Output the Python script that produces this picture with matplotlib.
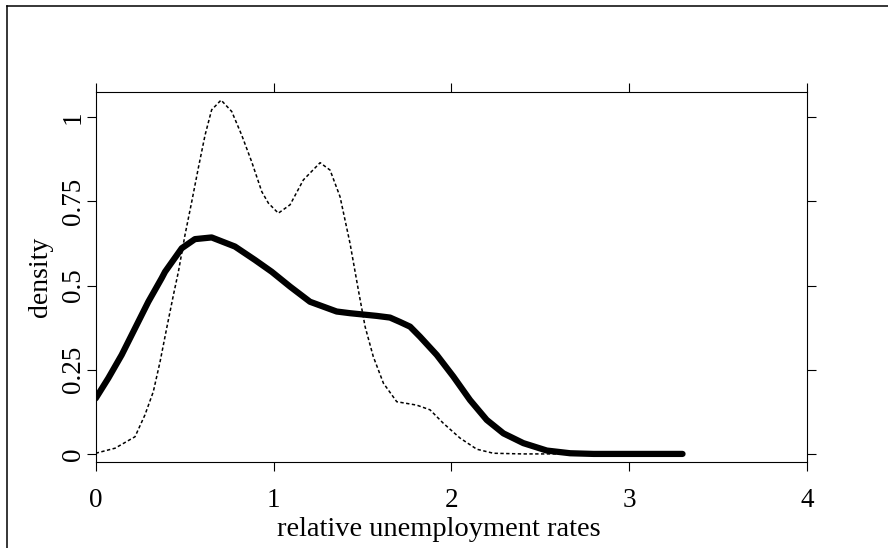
import matplotlib
matplotlib.use("Agg")
import matplotlib.pyplot as plt
from matplotlib.lines import Line2D

plt.rcParams['font.family'] = ['Liberation Serif', 'DejaVu Serif']

# thick curve
solid_x = [0.0, 0.071, 0.146, 0.221, 0.296, 0.371, 0.39, 0.484, 0.558, 0.652,
           0.783, 0.896, 0.99, 1.093, 1.205, 1.355, 1.43, 1.505, 1.58, 1.655,
           1.711, 1.768, 1.824, 1.918, 2.011, 2.105, 2.199, 2.293, 2.405, 2.537,
           2.668, 2.8, 3.0, 3.3]
solid_y = [0.165, 0.225, 0.294, 0.373, 0.452, 0.522, 0.541, 0.611, 0.638, 0.643,
           0.616, 0.576, 0.541, 0.497, 0.452, 0.423, 0.418, 0.414, 0.41, 0.405,
           0.392, 0.378, 0.348, 0.294, 0.23, 0.16, 0.101, 0.061, 0.032, 0.01,
           0.002, 0.0, 0.0, 0.0]

# dotted curve
dot_x = [0.0, 0.109, 0.221, 0.277, 0.324, 0.362, 0.399, 0.437, 0.465, 0.502,
         0.54, 0.577, 0.615, 0.652, 0.705, 0.765, 0.821, 0.877, 0.934, 0.971,
         1.027, 1.093, 1.168, 1.262, 1.318, 1.374, 1.43, 1.477, 1.515, 1.561,
         1.618, 1.693, 1.805, 1.88, 1.955, 2.049, 2.143, 2.236, 2.4, 2.6]
dot_y = [0.002, 0.017, 0.051, 0.116, 0.185, 0.274, 0.373, 0.472, 0.541, 0.65,
         0.749, 0.849, 0.947, 1.022, 1.051, 1.017, 0.947, 0.868, 0.779, 0.745,
         0.715, 0.74, 0.814, 0.865, 0.843, 0.764, 0.626, 0.487, 0.378, 0.289,
         0.21, 0.155, 0.145, 0.131, 0.091, 0.047, 0.014, 0.002, 0.0, 0.0]

xticks = [0, 1, 2, 3, 4]
yticks = [0, 0.25, 0.5, 0.75, 1]
ytick_labels = ['0', '0.25', '0.5', '0.75', '1']

fig = plt.figure(figsize=(8.88, 5.48), dpi=100)
ax = fig.add_axes([95.7 / 888, 86 / 548, (807 - 95.7) / 888, (462 - 92) / 548])

ax.plot(solid_x, solid_y, color='black', linewidth=4.5, solid_capstyle='round',
        solid_joinstyle='round')
ax.plot(dot_x, dot_y, color='black', linewidth=1.1, linestyle=(0, (2.2, 1.6)))

ax.set_xlim(0, 4)
ax.set_ylim(-0.024, 1.075)

ax.set_xticks(xticks)
ax.set_xticklabels([str(t) for t in xticks])
ax.set_yticks(yticks)
ax.set_yticklabels(ytick_labels, rotation=90, va='center')

ax.tick_params(axis='both', direction='out', length=6.5, width=0.8,
               labelsize=19.5, top=True, right=True)
ax.tick_params(axis='x', pad=12)
ax.tick_params(axis='y', pad=0.5)
for s in ax.spines.values():
    s.set_linewidth(0.8)

ax.set_xlabel('relative unemployment rates', fontsize=20.5)
ax.xaxis.set_label_coords(0.483, -0.148)
ax.set_ylabel('density', fontsize=20, labelpad=6)

# outer frame (left and top edges only)
fig.add_artist(Line2D([6.5 / 888, 6.5 / 888], [0, 1 - 6 / 548],
                      transform=fig.transFigure, color='black', linewidth=1.1))
fig.add_artist(Line2D([6.5 / 888, 1], [1 - 6 / 548, 1 - 6 / 548],
                      transform=fig.transFigure, color='black', linewidth=1.1))

fig.savefig('out.png', dpi=100)
